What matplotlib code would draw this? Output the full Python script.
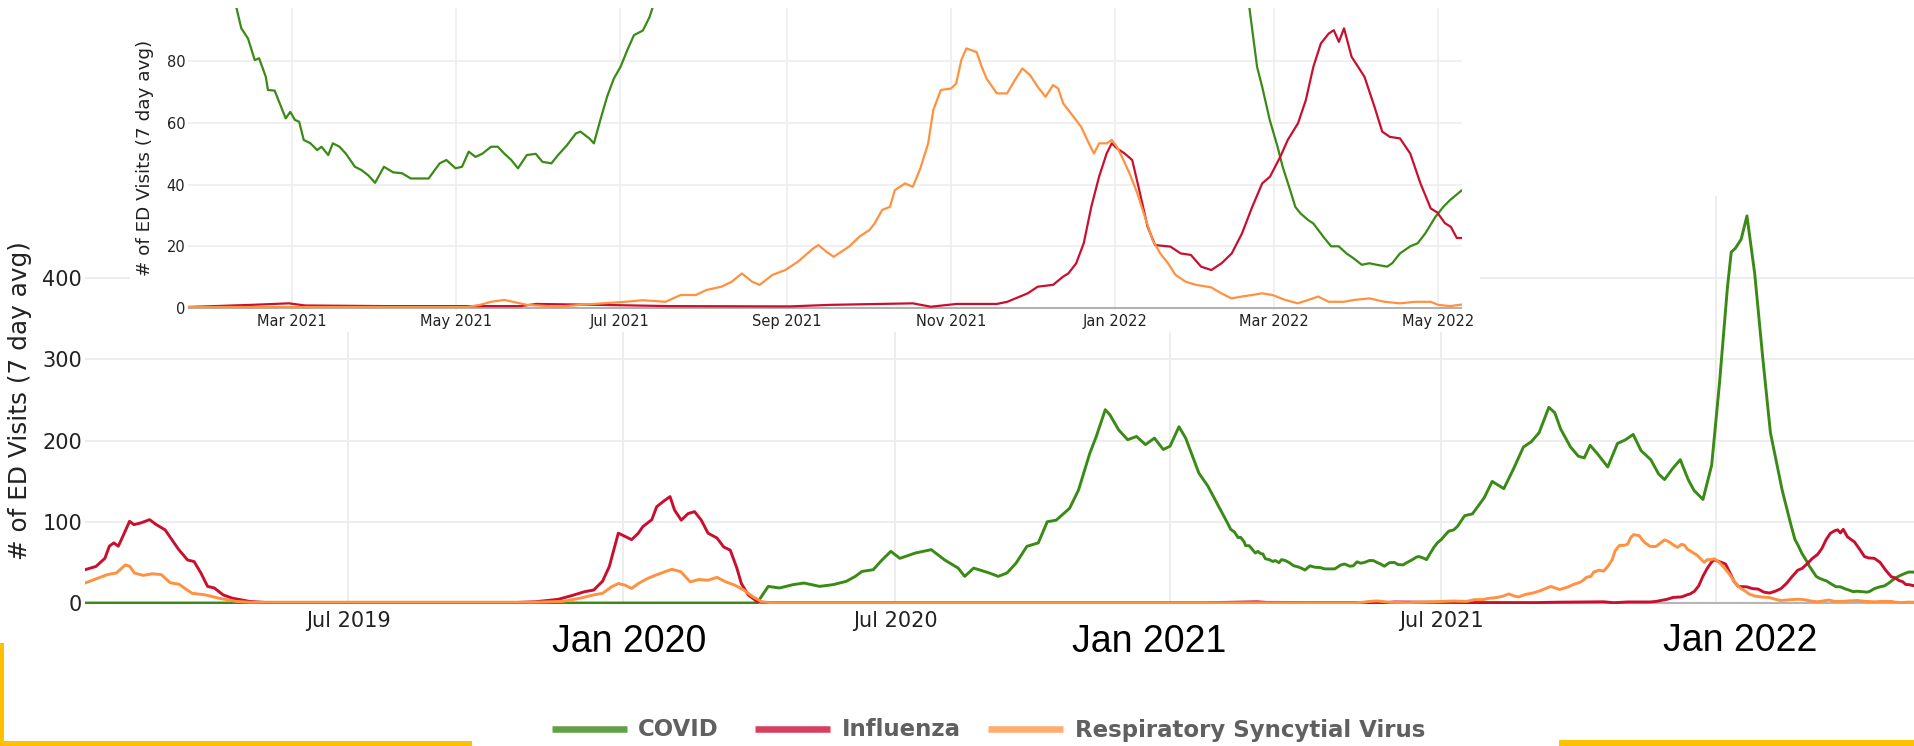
import matplotlib
matplotlib.use('Agg')
import matplotlib.pyplot as plt
from matplotlib.patches import Rectangle
from matplotlib.lines import Line2D
import pandas as pd

# ---------------- data ----------------
# x positions are days since the first date shown (2019-01-06)
start_date = '2019-01-06'

covid_day = [
    0, 449.5, 457, 464.5, 473.5, 481, 491.3, 500.3, 509.2, 515.2, 519.7, 527.2, 533.1, 539,
    545, 555.5, 566, 575, 584, 588.4, 594.4, 604.8, 610.8, 616.7, 622.7, 630, 637.6, 643.6,
    649.6, 658.5, 664.5, 672, 676.4, 682.4, 685.4, 691.4, 697.4, 703.3, 709.3, 715.3, 721.2,
    725.7, 731.7, 736.2, 745, 751, 764.6, 766.3, 768.8, 771.3, 772.9, 775.4, 776.2, 778.7,
    781.2, 782.8, 784.5, 786.2, 787.8, 789.5, 792, 794.5, 796.1, 798.6, 800.3, 802.8, 805.2,
    808.5, 811, 813.5, 816, 819.3, 822.7, 826, 829.3, 833.4, 835.9, 840, 842.5, 845.9, 848.3,
    850.8, 853.3, 855.8, 859.1, 861.6, 864.1, 866.6, 869.1, 872.4, 875.7, 878.2, 881.5, 884,
    887.3, 890.6, 892.3, 895.6, 897.3, 899.7, 902.2, 904.7, 907.2, 909.7, 912.2, 915.5, 918,
    922.8, 928, 935.9, 941.2, 949, 955.5, 962.1, 967.4, 972.6, 979.1, 983.1, 987, 993.6,
    998.8, 1002.8, 1006.7, 1011.9, 1018.5, 1025, 1030.3, 1035.5, 1040.8, 1047.3, 1052.6,
    1056.5, 1061.8, 1067, 1072.3, 1076.2, 1082.2, 1088, 1093.3, 1098.5, 1101.1, 1103.8,
    1107.7, 1111.6, 1116.8, 1122.1, 1127.3, 1135.2, 1140.9, 1143.7, 1145.6, 1148.4, 1151.3,
    1153.2, 1156, 1157.9, 1159.8, 1162.7, 1164.6, 1166.4, 1168.4, 1171.2, 1174, 1176.9,
    1179.7, 1182.6, 1185.4, 1188.2, 1192, 1193.9, 1196.8, 1200.6, 1203.4, 1206.2, 1210,
    1212.9, 1215.4, 1219.8, 1224,
]
covid_val = [
    0, 0, 20.5, 18.5, 22.6, 24.6, 20.5, 22.6, 26.7, 32.8, 38.9, 41, 53, 63.6,
    55, 61.6, 65.7, 53, 43, 32.8, 43, 37, 32.8, 37, 49, 69.8, 74, 100,
    102, 116.5, 139, 184, 205, 238, 232, 213, 201, 205, 195, 203, 189,
    193, 217, 203, 160, 144, 97, 90.7, 87.4, 80.4, 81, 75, 70.7, 70.5,
    65, 61.5, 63.6, 61, 60.4, 54.5, 53.4, 51.2, 52.3, 49.6, 53.4, 52.3, 50,
    45.8, 44.7, 43, 40.6, 45.8, 44, 43.7, 42, 42, 42, 46.9, 48, 45.3, 45.8,
    50.7, 49, 50, 52.3, 52.3, 50, 48, 45.3, 49.6, 50, 47.4, 46.9, 49.6,
    52.8, 56.6, 57.2, 55, 53.4, 61, 68.5, 74.4, 78.2, 83.6, 88.5, 90, 94.4,
    107.5, 109.7, 129.7, 149.7, 140.8, 165.3, 192, 198.6, 209.7, 240.9, 234.1, 214.2, 192,
    180.8, 178.6, 194.2, 183, 167.5, 196.4, 200.9, 207.5, 187.5, 176.4, 158.6,
    152, 165.3, 176.4, 152, 138.6, 127.5, 169.7, 272, 387.6, 432, 436.5,
    447.6, 476.5, 405.3, 303, 209.7, 138.6, 97, 78.2, 71.7, 61, 52.3,
    45.8, 38.2, 32.8, 30.7, 28.5, 27.4, 25.3, 23, 20, 20, 17.7,
    16, 14, 14.5, 14, 13.4, 14.5, 17.7, 20, 21, 24.2, 29.6,
    32.8, 35, 38.2, 38,
]

influenza_day = [
    0, 7.3, 13.3, 16.3, 19.3, 22.3, 25.3, 29.8, 32.7, 37.2, 43.2, 47.7, 53.6, 58.1, 62.6,
    68.6, 73, 77.5, 82, 86.5, 92.4, 98.4, 110, 122, 286.5, 301.4, 316.4, 325.3, 334.3,
    340.3, 346.2, 350.7, 356.7, 361.2, 365.6, 370.1, 373.1, 379.1, 382.4, 386.8, 391.3,
    394.3, 398.8, 403.3, 407.7, 412.2, 416.7, 422.7, 427.2, 431.6, 436, 439, 443.6, 449.5,
    455.5, 746, 770, 784, 790, 820, 870, 876, 900, 925, 970, 985, 1015.8, 1022.5, 1032,
    1047, 1050.9, 1058.5, 1062.2, 1067.9, 1071.7, 1073.6, 1076.5, 1079.3, 1082.1, 1085,
    1087.8, 1089.7, 1091.6, 1094.5, 1097.3, 1100.2, 1103, 1105.8, 1111.5, 1115.3, 1119.1,
    1122.9, 1126.7, 1130.5, 1134.3, 1138.1, 1141.9, 1145.6, 1148.5, 1152.3, 1155.1,
    1158.9, 1161.8, 1164.6, 1167.4, 1170.3, 1172.2, 1174.1, 1176, 1178.8, 1183.6, 1187.3,
    1190.2, 1193, 1196.8, 1200.6, 1204.4, 1208.2, 1210.6, 1213.5, 1215.7, 1217.9, 1219.7,
    1224,
]
influenza_val = [
    41, 45, 55, 70, 74, 70, 82, 100.6, 96.5, 98.5, 102.6, 96.5, 90, 78, 66,
    53, 51, 37, 20.5, 18.5, 10, 6, 2, 0.5, 0.5, 1.6, 4.5, 9, 14,
    16, 27, 45, 86, 82, 78, 86, 94, 102.6, 118.6, 125, 131,
    114.5, 102, 110, 112.5, 102, 86, 80, 69, 65, 43, 24, 10, 2,
    0.3, 0.3, 1, 1.5, 0.8, 0.6, 0.6, 1.3, 1, 0.6, 0.5, 1, 1.5, 0.4, 1.3,
    1.3, 2, 4.75, 6.9, 7.5, 10.2, 11.2, 14.5, 21, 32.8, 42.6,
    50.1, 53.4, 51.8, 50.1, 48, 37.2, 26.4, 20.4, 19.9, 17.7, 17.2,
    13.4, 12.3, 14.5, 17.7, 24.2, 32.8, 40.4, 42.6, 49, 54.5,
    59.9, 67.4, 78.2, 85.8, 89, 90.1, 86.3, 90.7, 81.5, 75, 65.3,
    57.2, 55.5, 55, 50.1, 40.4, 32.3, 31, 27.5, 26.3, 22.7, 22.7,
    21,
]

rsv_day = [
    0, 12, 15, 21, 27, 30, 33, 39, 45, 51, 57, 63, 71.5, 80.5, 89.4, 101, 110, 300,
    319.4, 331.3, 340.3, 346.2, 352.2, 356.7, 361.2, 365.6, 370.1, 376, 382, 388, 392.5,
    398.5, 404.8, 410.7, 416.7, 422.7, 428.6, 434.6, 440.6, 446.6, 452.5, 458.5, 850,
    855, 859.1, 864.1, 872.4, 884, 892.3, 900.6, 908.9, 915.5, 920.5, 923.9, 929.5, 935.2,
    939, 944.7, 948.5, 952.3, 956.1, 958.9, 963.6, 968.4, 973.1, 978.8, 980.7, 983.6, 986.4,
    988.3, 992.1, 995.9, 999.7, 1001.6, 1004.4, 1007.3, 1009.1, 1012.9, 1015.8, 1018.6,
    1021.5, 1023.4, 1026.2, 1030, 1031.9, 1033.8, 1035.7, 1039.5, 1041.4, 1043.2, 1047,
    1050.8, 1053.7, 1056.5, 1059.4, 1062.2, 1065.1, 1067.9, 1069.8, 1071.7, 1073.6, 1075.5,
    1078.3, 1081.2, 1083.1, 1085, 1087.8, 1089.7, 1091.6, 1093.5, 1096.3, 1099.2, 1102,
    1104.9, 1107.7, 1110.6, 1113.4, 1117.2, 1121, 1126.6, 1130.4, 1134.2, 1138, 1141.8,
    1145.6, 1149.4, 1154.1, 1158.8, 1162.7, 1166.4, 1170.3, 1175.9, 1179.7, 1185.4, 1191.1,
    1196.8, 1202.5, 1208.2, 1211, 1215.4, 1219.7, 1224,
]
rsv_val = [
    24.6, 33, 35, 37, 47, 45, 37, 34, 36, 35, 25, 23, 12, 10, 6, 2, 1, 1,
    2, 6, 10, 12, 20, 24, 22, 18, 24, 30, 34.5, 38.6, 41.5,
    38.6, 26, 29, 28, 31.6, 26, 22, 16, 8, 1.6, 0.3, 0.3,
    1, 2, 2.6, 1, 0.4, 1, 1.5, 2, 2.5, 2.2, 2, 4.2, 4.2,
    5.8, 6.9, 8.5, 11.2, 8.5, 7.5, 10.7, 12.3, 15, 19.3, 20.4, 18.3, 16.6,
    17.7, 19.9, 23.1, 25.3, 27.4, 31.8, 32.8, 38.2, 40.4, 39.3, 45.3,
    53.4, 64.2, 70.7, 71.2, 72.8, 80.4, 84.2, 83, 78.2, 74.4, 69.6,
    69.6, 73.9, 77.7, 75.5, 71.7, 68.5, 72.3, 71.2, 66.3, 64.2, 62,
    58.8, 53.4, 50.1, 53.4, 53.4, 54.5, 52.3, 49, 43.7, 37.2, 29.6,
    22, 17.7, 14.5, 10.7, 8.5, 7.5, 6.7, 4.75, 3.1, 3.7, 4.2,
    4.75, 4.2, 2.6, 1.5, 2.6, 3.7, 2, 2, 2.6, 3.1, 2,
    1.5, 2, 2, 1, 0.6, 1.1, 1,
]

series_names = ['COVID', 'Influenza', 'Respiratory Syncytial Virus']

main_yticks = [0, 100, 200, 300, 400]
main_xtick_dates = ['2019-07-01', '2020-01-01', '2020-07-01', '2021-01-01', '2021-07-01', '2022-01-01']
main_xtick_labels = ['Jul 2019', '', 'Jul 2020', '', 'Jul 2021', '']
big_labels = ['Jan 2020', 'Jan 2021', 'Jan 2022']

inset_yticks = [0, 20, 40, 60, 80]
inset_xtick_dates = ['2021-03-01', '2021-05-01', '2021-07-01', '2021-09-01',
                     '2021-11-01', '2022-01-01', '2022-03-01', '2022-05-01']
inset_xtick_labels = ['Mar 2021', 'May 2021', 'Jul 2021', 'Sep 2021',
                      'Nov 2021', 'Jan 2022', 'Mar 2022', 'May 2022']

ylabel = '# of ED Visits (7 day avg)'

# ---------------- styling ----------------
C_COVID = '#3a8a16'
C_FLU = '#c8102e'
C_RSV = '#ff9140'
LEG_COLORS = ['#62a045', '#d6405e', '#ffac70']
YELLOW = '#FFC000'
GRID = '#ececec'

plt.rcParams['font.family'] = ['DejaVu Sans']

W, H = 1915, 746


def fx(px):
    return px / W


def fy(py):
    return 1 - py / H


t0 = pd.Timestamp(start_date)


def to_dates(days):
    return t0 + pd.to_timedelta(days, unit='D')


series = [
    (to_dates(covid_day), covid_val, C_COVID),
    (to_dates(influenza_day), influenza_val, C_FLU),
    (to_dates(rsv_day), rsv_val, C_RSV),
]

fig = plt.figure(figsize=(W / 100, H / 100), dpi=100)
fig.patch.set_facecolor('white')

# ---------------- main chart ----------------
ax = fig.add_axes([fx(85), fy(604), fx(1915) - fx(85), fy(196) - fy(604)])
ax.set_zorder(0)
for s in ax.spines.values():
    s.set_visible(False)
ax.set_xlim(pd.Timestamp('2019-01-06'), pd.Timestamp('2022-05-14'))
ax.set_ylim(-1.2, 501)
ax.axhline(0, color='#b5b5b5', lw=1.5, zorder=1)
for i, (d, v, c) in enumerate(series):
    ax.plot(d, v, color=c, lw=2.1, zorder=3 + i, solid_joinstyle='round')
ax.set_yticks(main_yticks)
ax.set_yticklabels([str(v) for v in main_yticks], fontsize=15, color='#222222')
ax.set_xticks(pd.to_datetime(main_xtick_dates))
ax.set_xticklabels(main_xtick_labels, fontsize=15, color='#222222')
ax.tick_params(axis='y', length=0, pad=2)
ax.tick_params(axis='x', length=0, pad=5)
ax.grid(True, color=GRID, lw=1.3)
ax.set_axisbelow(True)

# white box behind the inset
fig.patches.append(Rectangle((fx(130), fy(332)), fx(1480) - fx(130), fy(0) - fy(332),
                             transform=fig.transFigure, facecolor='white',
                             edgecolor='none', zorder=2))

# ---------------- inset chart ----------------
axi = fig.add_axes([fx(188), fy(309.5), fx(1462) - fx(188), fy(8) - fy(309.5)])
axi.set_zorder(3)
axi.set_facecolor('white')
for s in axi.spines.values():
    s.set_visible(False)
axi.set_xlim(pd.Timestamp('2021-01-21 12:00'), pd.Timestamp('2022-05-09 20:00'))
axi.set_ylim(-0.5, 97.3)
axi.axhline(0, color='#b0b0b0', lw=1.4, zorder=1)
for i, (d, v, c) in enumerate(series):
    axi.plot(d, v, color=c, lw=1.6, zorder=3 + i, solid_joinstyle='round')
axi.set_yticks(inset_yticks)
axi.set_yticklabels([str(v) for v in inset_yticks], fontsize=10.5, color='#222222')
axi.set_xticks(pd.to_datetime(inset_xtick_dates))
axi.set_xticklabels(inset_xtick_labels, fontsize=10.5, color='#222222')
axi.tick_params(axis='y', length=0, pad=2)
axi.tick_params(axis='x', length=0, pad=3)
axi.grid(True, color=GRID, lw=1.1)
axi.set_axisbelow(True)

# ---------------- axis titles ----------------
fig.text(fx(20), fy(401), ylabel, rotation=90, fontsize=17.8, ha='center', va='center',
         color='#222222')
fig.text(fx(145), fy(158), ylabel, rotation=90, fontsize=13.2, ha='center', va='center',
         color='#222222', zorder=4)

# big overlaid Jan labels
for lab, xc, yb in zip(big_labels, [629, 1149, 1740], [652, 652, 651]):
    fig.text(fx(xc), fy(yb), lab, fontsize=27, family='Liberation Sans', ha='center',
             va='baseline', color='black')

# ---------------- legend ----------------
leg_lines = [(552, 627, 638), (755, 830, 842), (988, 1063, 1075)]
for (x0, x1, xt), col, name in zip(leg_lines, LEG_COLORS, series_names):
    fig.add_artist(Line2D([fx(x0), fx(x1)], [fy(729), fy(729)], transform=fig.transFigure,
                          color=col, lw=4.7, solid_capstyle='butt'))
    fig.text(fx(xt), fy(730), name, fontsize=16.5, weight='bold', color='#606060',
             ha='left', va='center')

# ---------------- yellow decoration lines ----------------
fig.patches.append(Rectangle((0, 0), fx(3.6), fy(643), transform=fig.transFigure,
                             facecolor=YELLOW, edgecolor='none', zorder=5))
fig.patches.append(Rectangle((0, 0), fx(472), 5.3 / H, transform=fig.transFigure,
                             facecolor=YELLOW, edgecolor='none', zorder=5))
fig.patches.append(Rectangle((fx(1559), 0), 1 - fx(1559), 6 / H, transform=fig.transFigure,
                             facecolor=YELLOW, edgecolor='none', zorder=5))

fig.savefig('out.png', dpi=100, facecolor='white')
